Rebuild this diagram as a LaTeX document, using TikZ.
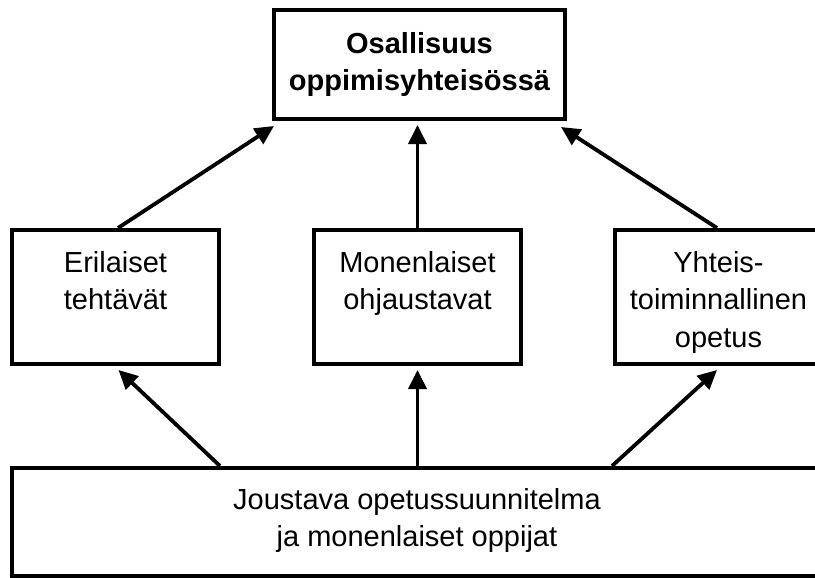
\documentclass[tikz,border=0pt]{standalone}
\usepackage{fontspec}
\setmainfont{Liberation Sans}
\usetikzlibrary{arrows.meta}
\begin{document}
\begin{tikzpicture}[x=1pt,y=-1pt,
  box/.style={draw=black, line width=4pt, inner sep=0pt, fill=white},
  txt/.style={inner sep=0pt, anchor=base, font=\fontsize{29}{37}\selectfont, text=black},
  arr/.style={line width=3.8pt, -{Triangle[length=19pt,width=18pt]}}]
\clip (0,0) rectangle (815,578);
\fill[white] (0,0) rectangle (815,578);
% boxes
\node[box, minimum width=291pt, minimum height=109pt] (top) at (419.5,64.5) {};
\node[box, minimum width=207pt, minimum height=134pt] (l) at (115.5,297) {};
\node[box, minimum width=207pt, minimum height=134pt] (m) at (417.5,297) {};
\node[box, minimum width=207pt, minimum height=134pt] (r) at (718.5,297) {};
\node[box, minimum width=810pt, minimum height=108pt] (b) at (417,522) {};
% texts
\node[txt, font=\fontsize{29}{37}\selectfont\bfseries] (t1) at (419.5,54) {Osallisuus};
\node[txt, font=\fontsize{29}{37}\selectfont\bfseries] (t2) at (419.5,91) {oppimisyhteisössä};
\node[txt] (l1) at (115.5,272) {Erilaiset};
\node[txt] (l2) at (115.5,309) {tehtävät};
\node[txt] (m1) at (417.5,272) {Monenlaiset};
\node[txt] (m2) at (417.5,309) {ohjaustavat};
\node[txt] (r1) at (718.5,272) {Yhteis-};
\node[txt] (r2) at (718.5,309.5) {toiminnallinen};
\node[txt] (r3) at (718.5,347) {opetus};
\node[txt] (b1) at (417,509) {Joustava opetussuunnitelma};
\node[txt] (b2) at (417,546.5) {ja monenlaiset oppijat};
% connectors
\draw[arr] ([xshift=2.5pt]l.north) -- ([shift={(2pt,-5pt)}]top.south west);
\draw[arr] (m.north) -- ([yshift=-4pt]m.north |- top.south);
\draw[arr] ([xshift=-1.5pt]r.north) -- ([shift={(-6pt,-6pt)}]top.south east);
\draw[arr] ([xshift=-197pt]b.north) -- ([shift={(3pt,-4pt)}]l.south);
\draw[arr] (m.south |- b.north) -- ([yshift=-4pt]m.south);
\draw[arr] ([xshift=195pt]b.north) -- ([shift={(-1.5pt,-4pt)}]r.south);
\end{tikzpicture}
\end{document}
